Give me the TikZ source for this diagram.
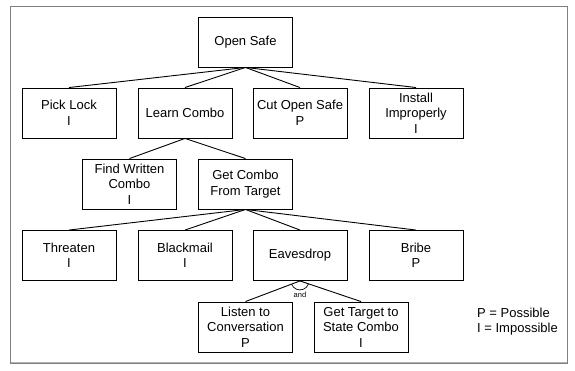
\documentclass[tikz,border=0pt]{standalone}
\usepackage{fontspec}
\setmainfont{Liberation Sans}
\begin{document}
\begin{tikzpicture}[x=1pt,y=1pt,
  box/.style={draw=black, line width=0.9pt, minimum width=94pt, minimum height=50pt,
    inner sep=0pt, align=center, font=\fontsize{13}{15.5}\selectfont},
  conn/.style={draw=black, line width=0.9pt},
  lbl/.style={font=\fontsize{13}{15}\selectfont, align=left, inner sep=0pt}]
\useasboundingbox (0,0) rectangle (575,371);
% frame
\draw[gray!60, line width=2.5pt] (10,8) -- (567,8);
\draw[gray, line width=0.8pt] (10,8) rectangle (567,364.5);
% nodes
\node[box] (os) at (245.5,329) {Open Safe};
\node[box] (pl) at (69,258) {Pick Lock\\I};
\node[box] (lc) at (185,258) {Learn Combo};
\node[box] (co) at (300,258) {Cut Open Safe\\P};
\node[box] (ii) at (416,258) {Install\\Improperly\\I};
\node[box] (fw) at (129.5,187) {Find Written\\Combo\\I};
\node[box] (gc) at (245.5,187) {Get Combo\\From Target};
\node[box] (th) at (69,115.5) {Threaten\\I};
\node[box] (bm) at (185,115.5) {Blackmail\\I};
\node[box] (ed) at (300,115.5) {Eavesdrop};
\node[box] (br) at (416,115.5) {Bribe\\P};
\node[box] (li) at (245.5,44) {Listen to\\Conversation\\P};
\node[box] (gt) at (361,44) {Get Target to\\State Combo\\I};
% connectors
\foreach \c in {pl,lc,co,ii} \draw[conn] (os.south) -- (\c.north);
\foreach \c in {fw,gc} \draw[conn] (lc.south) -- (\c.north);
\foreach \c in {th,bm,ed,br} \draw[conn] (gc.south) -- (\c.north);
\foreach \c in {li,gt} \draw[conn] (ed.south) -- (\c.north);
% and arc
\draw[conn, line width=0.7pt] ([shift={(201.07:9pt)}]ed.south) arc[start angle=201.07, end angle=341, radius=9pt];
\node[font=\fontsize{7.5}{8}\selectfont, inner sep=0pt] (and) at (300,76) {and};
% legend
\node[lbl, anchor=base west] (lg) at (477,38) {P = Possible\\I = Impossible};
\end{tikzpicture}
\end{document}
